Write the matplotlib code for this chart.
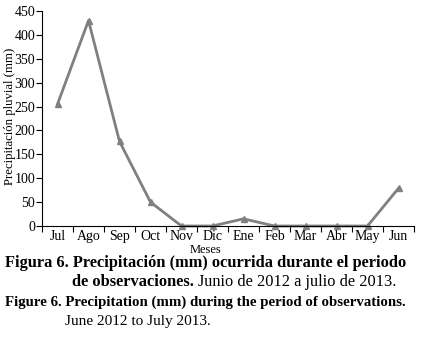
import matplotlib.pyplot as plt
import numpy as np

# Monthly rainfall, June 2012 - July 2013
meses = ['Jul', 'Ago', 'Sep', 'Oct', 'Nov', 'Dic', 'Ene', 'Feb', 'Mar', 'Abr', 'May', 'Jun']
precip = [255, 430, 177, 50, 0, 0, 15, 0, 0, 0, 0, 79]
yticks = [0, 50, 100, 150, 200, 250, 300, 350, 400, 450]

plt.rcParams['font.family'] = ['Liberation Serif', 'DejaVu Serif']

fig = plt.figure(figsize=(4.21, 3.37), dpi=100)
ax = fig.add_axes([42 / 421, 1 - 226 / 337, 372 / 421, 215 / 337])

x = np.arange(len(meses))
ax.plot(x, precip, color='#808080', lw=2, marker='^', ms=5,
        markerfacecolor='#808080', markeredgecolor='#808080', clip_on=False)

ax.set_xlim(-0.5, len(meses) - 0.5)
ax.set_ylim(0, 450)
ax.set_yticks(yticks)
ax.tick_params(axis='y', labelsize=10, length=4, width=0.8, pad=1)
# category axis: ticks at boundaries, labels centered
ax.set_xticks(np.arange(len(meses) + 1) - 0.5)
ax.set_xticklabels([])
ax.set_xticks(x, minor=True)
ax.set_xticklabels(meses, minor=True, fontsize=10)
ax.tick_params(axis='x', which='major', length=4, width=0.8)
ax.tick_params(axis='x', which='minor', length=0, pad=3)
for s in ['top', 'right']:
    ax.spines[s].set_visible(False)
for s in ['left', 'bottom']:
    ax.spines[s].set_linewidth(0.8)

fig.text(10 / 421, 1 - 116 / 337, 'Precipitación pluvial (mm)', fontsize=9.2,
         rotation=90, ha='center', va='center')
fig.text(206 / 421, 1 - 250 / 337, 'Meses', fontsize=9, ha='center', va='center')

# caption
fig.text(5 / 421, 1 - 263 / 337, 'Figura 6. Precipitación (mm) ocurrida durante el periodo',
         fontsize=11.8, fontweight='bold', va='center')
fig.canvas.draw()
r = fig.canvas.get_renderer()
t2 = fig.text(72 / 421, 1 - 282 / 337, 'de observaciones.', fontsize=11.8,
              fontweight='bold', va='center')
bb = t2.get_window_extent(r)
fig.text(bb.x1 / fig.bbox.width + 0.01, 1 - 282 / 337, 'Junio de 2012 a julio de 2013.',
         fontsize=11.8, va='center')
fig.text(5 / 421, 1 - 302 / 337, 'Figure 6. Precipitation (mm) during the period of observations.',
         fontsize=10.7, fontweight='bold', va='center')
fig.text(65 / 421, 1 - 322 / 337, 'June 2012 to July 2013.', fontsize=11, va='center')

fig.savefig('out.png', dpi=100)
